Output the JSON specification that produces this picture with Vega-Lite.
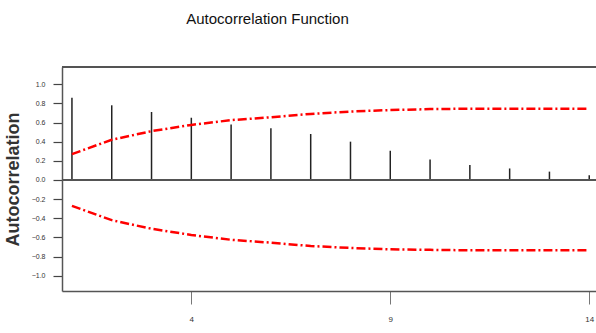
{
  "$schema": "https://vega.github.io/schema/vega-lite/v6.json",
  "autosize": {"type": "none"},
  "padding": {"left": 62, "top": 67, "right": 0, "bottom": 42},
  "width": 534,
  "height": 224,
  "background": "white",
  "title": {
    "text": "Autocorrelation Function",
    "font": "Liberation Sans",
    "fontSize": 15,
    "fontWeight": "normal",
    "color": "#111",
    "anchor": "start",
    "dx": 182,
    "offset": 39
  },
  "config": {
    "view": {"stroke": null},
    "axis": {"labelOverlap": false, "labelBound": false}
  },
  "data": {
    "values": [
      {"lag": 1, "acf": 0.86, "upper": 0.27, "lower": -0.27},
      {"lag": 2, "acf": 0.78, "upper": 0.42, "lower": -0.42},
      {"lag": 3, "acf": 0.71, "upper": 0.51, "lower": -0.51},
      {"lag": 4, "acf": 0.65, "upper": 0.575, "lower": -0.575},
      {"lag": 5, "acf": 0.58, "upper": 0.625, "lower": -0.625},
      {"lag": 6, "acf": 0.54, "upper": 0.655, "lower": -0.655},
      {"lag": 7, "acf": 0.48, "upper": 0.69, "lower": -0.69},
      {"lag": 8, "acf": 0.40, "upper": 0.715, "lower": -0.71},
      {"lag": 9, "acf": 0.305, "upper": 0.73, "lower": -0.725},
      {"lag": 10, "acf": 0.215, "upper": 0.74, "lower": -0.73},
      {"lag": 11, "acf": 0.156, "upper": 0.745, "lower": -0.735},
      {"lag": 12, "acf": 0.12, "upper": 0.745, "lower": -0.735},
      {"lag": 13, "acf": 0.087, "upper": 0.745, "lower": -0.735},
      {"lag": 14, "acf": 0.05, "upper": 0.745, "lower": -0.735}
    ]
  },
  "encoding": {
    "x": {
      "field": "lag",
      "type": "quantitative",
      "scale": {"domain": [0.75, 14.17], "nice": false, "zero": false},
      "axis": {
        "values": [4, 9, 14],
        "format": "d",
        "title": null,
        "grid": false,
        "domainColor": "#555",
        "domainWidth": 1.5,
        "tickColor": "#777",
        "tickWidth": 1,
        "tickSize": 13,
        "labelPadding": 11,
        "labelFont": "Liberation Sans",
        "labelFontSize": 8,
        "labelColor": "#333",
        "labelOverlap": false,
        "labelFlush": false
      }
    }
  },
  "layer": [
    {
      "mark": {"type": "rule", "color": "#222", "strokeWidth": 1.5},
      "encoding": {
        "y": {
          "field": "acf",
          "type": "quantitative",
          "scale": {"domain": [-1.16, 1.18], "nice": false, "zero": false},
          "axis": {
            "values": [-1, -0.8, -0.6, -0.4, -0.2, 0, 0.2, 0.4, 0.6, 0.8, 1],
            "tickCount": 20,
            "format": ".1f",
            "title": "Autocorrelation",
            "titleFont": "Liberation Sans",
            "titleFontWeight": "bold",
            "titleFontSize": 18,
            "titleColor": "#333",
            "titlePadding": 9,
            "grid": false,
            "domainColor": "#555",
            "domainWidth": 1.5,
            "tickColor": "#444",
            "tickWidth": 1.2,
            "tickSize": 9,
            "labelPadding": 8,
            "labelFont": "Liberation Sans",
            "labelFontSize": 7,
            "labelColor": "#333",
            "labelOverlap": false,
            "labelBound": false
          }
        },
        "y2": {"datum": 0}
      }
    },
    {
      "mark": {"type": "rule", "color": "#555", "strokeWidth": 1.5},
      "encoding": {
        "x": null,
        "y": {"datum": 1.18, "type": "quantitative"}
      }
    },
    {
      "mark": {"type": "rule", "color": "#555", "strokeWidth": 1.5},
      "encoding": {
        "x": null,
        "y": {"datum": 0, "type": "quantitative"}
      }
    },
    {
      "mark": {"type": "line", "color": "#ff0000", "strokeWidth": 2.5, "strokeDash": [9, 3, 2, 3]},
      "encoding": {"y": {"field": "upper", "type": "quantitative"}}
    },
    {
      "mark": {"type": "line", "color": "#ff0000", "strokeWidth": 2.5, "strokeDash": [9, 3, 2, 3]},
      "encoding": {"y": {"field": "lower", "type": "quantitative"}}
    }
  ]
}
